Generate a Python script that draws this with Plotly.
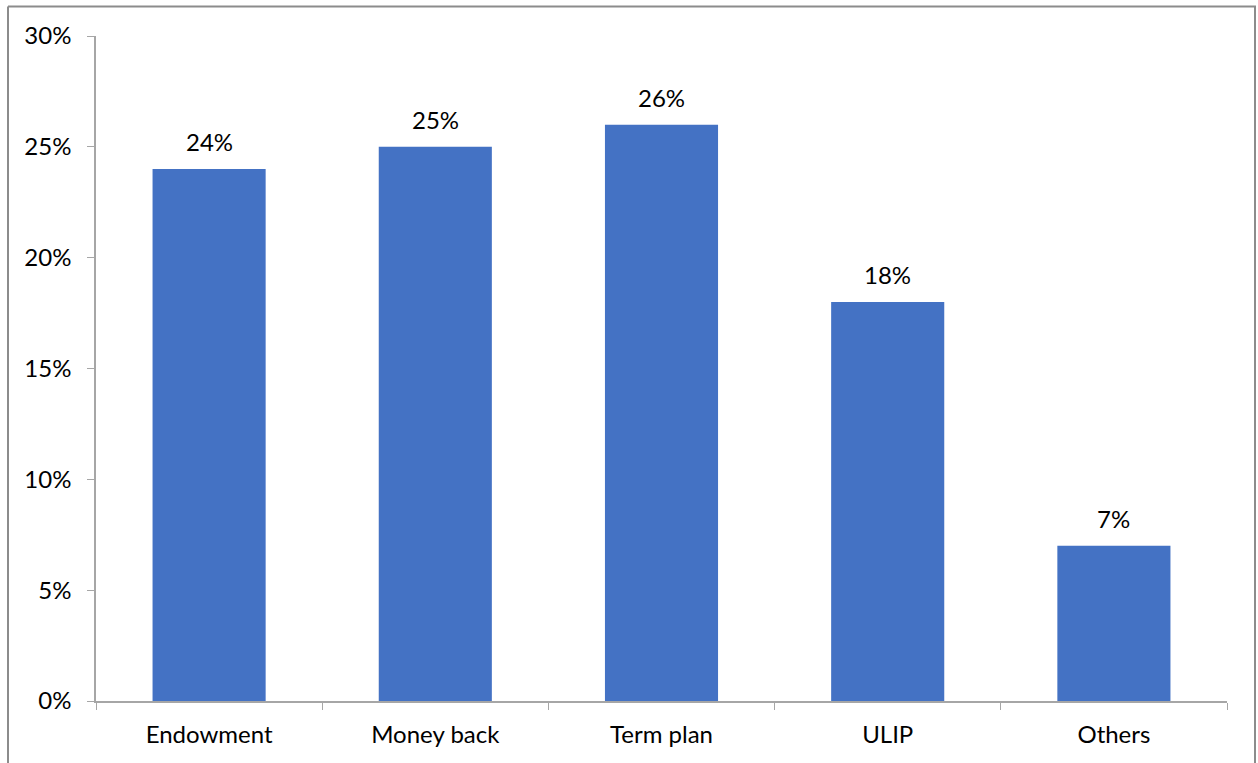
import plotly.graph_objects as go

categories = ["Endowment", "Money back", "Term plan", "ULIP", "Others"]
shares = [24, 25, 26, 18, 7]
y_ticks = [0, 5, 10, 15, 20, 25, 30]
y_tick_labels = [f"{v}%" for v in y_ticks]

W, H = 1258, 763
L, R, T, B = 96, 31, 36, 62
pw = W - L - R
ph = H - T - B

FONT = "Lato, Carlito, Calibri, sans-serif"
FS = 24

fig = go.Figure(
    go.Bar(
        x=categories,
        y=shares,
        marker=dict(color="#4472C4", line=dict(width=0)),
        textposition="none",
    )
)

# Value labels above each bar
for c, v in zip(categories, shares):
    fig.add_annotation(
        x=c, y=v, text=f"{v}%", showarrow=False,
        yanchor="bottom", yshift=11,
        font=dict(size=FS, color="#000000", family=FONT),
    )

axis_grey = "#A6A6A6"

fig.update_layout(
    width=W,
    height=H,
    margin=dict(l=L, r=R, t=T, b=B),
    paper_bgcolor="white",
    plot_bgcolor="white",
    bargap=0.5,
    showlegend=False,
    font=dict(family=FONT, size=FS, color="#000000"),
    xaxis=dict(
        showline=True,
        linecolor=axis_grey,
        linewidth=1.5,
        ticks="outside",
        tickson="boundaries",
        ticklen=7,
        tickcolor=axis_grey,
        tickfont=dict(size=FS),
        ticklabelstandoff=11,
        showgrid=False,
        fixedrange=True,
    ),
    yaxis=dict(
        range=[0, 30],
        tickvals=y_ticks,
        ticktext=y_tick_labels,
        showline=True,
        linecolor=axis_grey,
        linewidth=1.5,
        ticks="outside",
        ticklen=7,
        tickcolor=axis_grey,
        tickfont=dict(size=FS),
        ticklabelstandoff=11,
        showgrid=False,
        zeroline=False,
        fixedrange=True,
    ),
)

# Thin frame around the chart area (open at the bottom)
def px_x(p):
    return (p - L) / pw

def px_y(p):
    return 1 - (p - T) / ph

frame = dict(type="line", xref="paper", yref="paper",
             line=dict(color="#8C8C8C", width=2), layer="above")
fig.add_shape(**frame, x0=px_x(8), x1=px_x(1256), y0=px_y(6.5), y1=px_y(6.5))
fig.add_shape(**frame, x0=px_x(8), x1=px_x(8), y0=px_y(6.5), y1=px_y(770))
fig.add_shape(**frame, x0=px_x(1255), x1=px_x(1255), y0=px_y(6.5), y1=px_y(770))

fig.write_html("out.html")
